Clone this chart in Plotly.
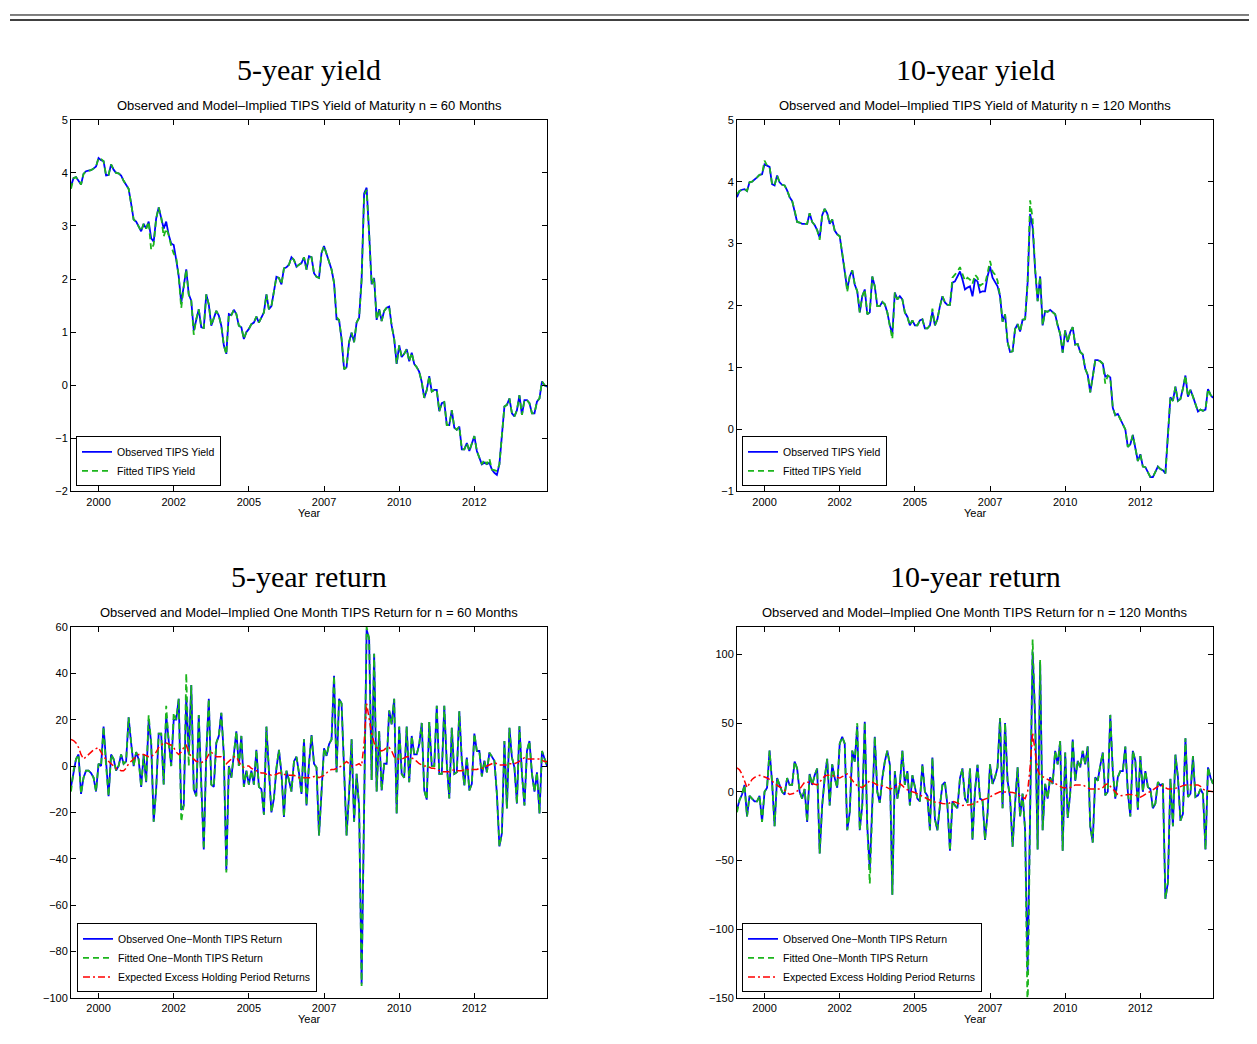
import plotly.graph_objects as go

# ---------------- DATA (monthly, Feb 1999 .. Dec 2014) ----------------
start_year = 1999
start_month = 2
n_obs = 191
months = [start_year + (start_month - 1 + k) / 12 for k in range(n_obs)]

tick_vals = [2000, 2002.5, 2005, 2007.5, 2010, 2012.5]
tick_text = ["2000", "2002", "2005", "2007", "2010", "2012"]

yield5_obs = [
    3.75, 3.90, 3.92, 3.85, 3.78, 3.98, 4.03, 4.04, 4.05, 4.08,
    4.12, 4.28, 4.24, 4.22, 3.95, 3.96, 4.16, 4.06, 4.00, 3.99,
    3.95, 3.85, 3.78, 3.70, 3.42, 3.12, 3.08, 2.98, 2.90, 3.04,
    2.95, 3.08, 2.77, 2.70, 3.14, 3.35, 3.17, 2.95, 3.08, 2.83,
    2.67, 2.64, 2.36, 2.05, 1.55, 1.85, 2.18, 1.71, 1.59, 1.03,
    1.25, 1.43, 1.09, 1.08, 1.71, 1.52, 1.12, 1.27, 1.40, 1.31,
    1.12, 0.75, 0.59, 1.34, 1.32, 1.42, 1.34, 1.12, 1.09, 0.87,
    1.00, 1.06, 1.15, 1.18, 1.29, 1.18, 1.27, 1.37, 1.71, 1.43,
    1.49, 1.80, 2.04, 2.02, 1.90, 2.20, 2.22, 2.27, 2.41, 2.36,
    2.23, 2.27, 2.30, 2.41, 2.18, 2.43, 2.41, 2.11, 2.04, 2.02,
    2.49, 2.62, 2.46, 2.33, 2.18, 1.93, 1.24, 1.23, 0.87, 0.30,
    0.34, 0.81, 0.99, 0.81, 1.18, 1.27, 1.99, 3.61, 3.72, 2.86,
    1.90, 2.02, 1.23, 1.43, 1.21, 1.40, 1.46, 1.48, 1.12, 0.87,
    0.40, 0.75, 0.53, 0.59, 0.68, 0.45, 0.61, 0.40, 0.34, 0.25,
    0.06, -0.24, -0.09, 0.17, -0.12, -0.09, -0.09, -0.49, -0.34, -0.32,
    -0.75, -0.75, -0.47, -0.80, -0.84, -0.78, -1.21, -1.21, -1.09, -1.24,
    -1.09, -0.96, -1.24, -1.37, -1.49, -1.46, -1.49, -1.46, -1.59, -1.65,
    -1.69, -1.49, -0.87, -0.40, -0.37, -0.25, -0.53, -0.59, -0.47, -0.19,
    -0.56, -0.28, -0.28, -0.34, -0.53, -0.53, -0.31, -0.25, 0.07, 0.00,
    -0.03,
]

yield5_fit = [
    3.70, 3.90, 3.92, 3.85, 3.78, 3.98, 4.03, 4.04, 4.05, 4.08,
    4.12, 4.28, 4.26, 4.22, 3.95, 3.96, 4.16, 4.06, 4.00, 3.99,
    3.95, 3.85, 3.78, 3.70, 3.42, 3.12, 3.08, 2.98, 2.90, 3.04,
    2.95, 3.08, 2.55, 2.65, 3.14, 3.35, 3.17, 2.80, 2.95, 2.83,
    2.62, 2.48, 2.40, 2.05, 1.45, 1.85, 2.18, 1.71, 1.59, 0.95,
    1.25, 1.43, 1.09, 1.08, 1.71, 1.52, 1.12, 1.27, 1.40, 1.31,
    1.12, 0.75, 0.58, 1.34, 1.32, 1.42, 1.34, 1.12, 1.09, 0.87,
    1.00, 1.06, 1.15, 1.18, 1.29, 1.18, 1.27, 1.37, 1.71, 1.43,
    1.49, 1.80, 2.04, 2.02, 1.90, 2.20, 2.22, 2.27, 2.41, 2.36,
    2.23, 2.27, 2.30, 2.41, 2.18, 2.43, 2.41, 2.11, 2.04, 2.02,
    2.49, 2.62, 2.46, 2.33, 2.18, 1.93, 1.28, 1.23, 0.87, 0.30,
    0.34, 0.81, 0.99, 0.81, 1.18, 1.27, 1.99, 3.58, 3.68, 2.86,
    1.90, 2.02, 1.23, 1.43, 1.21, 1.40, 1.46, 1.48, 1.12, 0.87,
    0.40, 0.75, 0.53, 0.59, 0.68, 0.45, 0.61, 0.40, 0.34, 0.25,
    0.06, -0.24, -0.09, 0.17, -0.12, -0.09, -0.09, -0.49, -0.34, -0.32,
    -0.75, -0.75, -0.47, -0.80, -0.84, -0.78, -1.21, -1.21, -1.09, -1.24,
    -1.09, -0.96, -1.24, -1.37, -1.49, -1.40, -1.49, -1.38, -1.59, -1.60,
    -1.62, -1.49, -0.87, -0.40, -0.37, -0.25, -0.53, -0.59, -0.47, -0.19,
    -0.56, -0.28, -0.28, -0.34, -0.53, -0.53, -0.31, -0.25, 0.07, 0.00,
    -0.06,
]

yield10_obs = [
    3.75, 3.85, 3.87, 3.88, 3.85, 3.99, 4.00, 4.03, 4.07, 4.11,
    4.12, 4.28, 4.26, 4.24, 3.96, 3.94, 4.10, 3.99, 3.95, 3.94,
    3.86, 3.75, 3.69, 3.54, 3.35, 3.34, 3.32, 3.32, 3.32, 3.49,
    3.35, 3.30, 3.22, 3.09, 3.46, 3.56, 3.49, 3.32, 3.39, 3.21,
    3.15, 3.12, 2.85, 2.58, 2.26, 2.47, 2.57, 2.34, 2.23, 1.89,
    2.15, 2.26, 1.86, 1.89, 2.47, 2.31, 1.99, 1.99, 2.06, 2.02,
    1.89, 1.68, 1.54, 2.21, 2.10, 2.15, 2.10, 1.89, 1.82, 1.68,
    1.76, 1.68, 1.68, 1.76, 1.78, 1.63, 1.63, 1.68, 1.90, 1.68,
    1.78, 1.99, 2.15, 2.05, 2.01, 2.01, 2.37, 2.39, 2.47, 2.55,
    2.42, 2.26, 2.29, 2.31, 2.15, 2.42, 2.39, 2.21, 2.23, 2.23,
    2.47, 2.63, 2.45, 2.39, 2.31, 2.15, 1.74, 1.86, 1.41, 1.25,
    1.26, 1.62, 1.70, 1.58, 1.77, 1.78, 2.37, 3.48, 3.27, 2.58,
    2.07, 2.47, 1.68, 1.91, 1.90, 1.93, 1.89, 1.86, 1.68, 1.54,
    1.24, 1.60, 1.41, 1.57, 1.65, 1.37, 1.38, 1.25, 1.21, 0.98,
    0.88, 0.60, 0.85, 1.12, 1.12, 1.10, 1.06, 0.85, 0.87, 0.84,
    0.35, 0.23, 0.25, 0.16, 0.08, 0.00, -0.28, -0.24, -0.09, -0.29,
    -0.51, -0.40, -0.60, -0.61, -0.69, -0.77, -0.77, -0.69, -0.60, -0.64,
    -0.66, -0.71, -0.03, 0.52, 0.46, 0.69, 0.46, 0.49, 0.66, 0.87,
    0.53, 0.64, 0.53, 0.41, 0.29, 0.32, 0.30, 0.32, 0.65, 0.56,
    0.51,
]

yield10_fit = [
    3.80, 3.85, 3.87, 3.88, 3.85, 3.99, 4.00, 4.03, 4.07, 4.11,
    4.12, 4.34, 4.26, 4.24, 3.96, 3.94, 4.10, 3.99, 3.95, 3.94,
    3.86, 3.75, 3.69, 3.54, 3.35, 3.34, 3.32, 3.32, 3.32, 3.49,
    3.35, 3.30, 3.22, 3.06, 3.46, 3.56, 3.49, 3.32, 3.39, 3.21,
    3.15, 3.12, 2.85, 2.58, 2.22, 2.47, 2.57, 2.34, 2.23, 1.89,
    2.15, 2.26, 1.86, 1.89, 2.47, 2.31, 1.99, 1.99, 2.06, 2.02,
    1.89, 1.68, 1.46, 2.21, 2.10, 2.15, 2.10, 1.89, 1.82, 1.68,
    1.76, 1.68, 1.68, 1.76, 1.78, 1.63, 1.63, 1.68, 1.95, 1.68,
    1.78, 1.99, 2.15, 2.05, 2.01, 2.01, 2.45, 2.50, 2.55, 2.62,
    2.50, 2.40, 2.45, 2.42, 2.35, 2.50, 2.45, 2.32, 2.35, 2.35,
    2.52, 2.72, 2.55, 2.50, 2.40, 2.15, 1.74, 1.86, 1.41, 1.25,
    1.26, 1.62, 1.70, 1.58, 1.77, 1.78, 2.37, 3.70, 3.40, 2.58,
    2.07, 2.47, 1.68, 1.91, 1.90, 1.93, 1.89, 1.86, 1.68, 1.54,
    1.24, 1.60, 1.41, 1.57, 1.65, 1.37, 1.38, 1.25, 1.21, 0.98,
    0.88, 0.60, 0.85, 1.12, 1.12, 1.10, 1.06, 0.74, 0.87, 0.84,
    0.35, 0.23, 0.25, 0.16, 0.08, 0.00, -0.28, -0.24, -0.09, -0.29,
    -0.51, -0.40, -0.60, -0.61, -0.69, -0.77, -0.77, -0.69, -0.60, -0.64,
    -0.66, -0.71, -0.03, 0.52, 0.46, 0.69, 0.46, 0.49, 0.66, 0.87,
    0.53, 0.64, 0.53, 0.41, 0.29, 0.32, 0.30, 0.32, 0.65, 0.56,
    0.51,
]

ret5_obs = [
    -9, -2, 3, 5, -12, -5, -2, -2, -3, -5,
    -11, 1, 0, 17, 0, -13, 5, 3, -2, 0,
    5, 1, 2, 21, 10, 0, 6, 3, -9, 5,
    -7, 20, 10, -24, -10, 14, 14, -8, 22, 10,
    0, 20, 20, 29, -19, -17, 30, 5, 35, -10,
    -13, 22, -10, -36, 5, 29, -8, -9, 10, 13,
    23, 5, -45, 0, -5, 5, 15, 0, 13, -9,
    -2, -8, -2, -8, 7, -9, -10, -21, 17, -2,
    -20, -14, -1, 7, -3, -22, -2, -6, -11, 2,
    4, -3, -12, 11.5, -17, 1, 13.4, 1, -0.6, -30,
    -9, 7.7, 4.4, 9.4, 11.5, 39, -2.7, 29, 27, -1,
    -30, -12, 11.5, -24, -3.4, -17.6, -94, -18, 59, 55,
    -6, 48.5, -11, 15, -10.5, 1, 1, 24, 18, 29,
    -20.5, 17, -3.4, -5, 17, -7, 13, 5, 5, 9.4,
    18.6, -10.5, -14.5, 19, 0, 0, 26, -3.4, -3.4, 26,
    1, -14, 16.5, -3.4, -2.7, 23.6, 2.3, -8.4, 3.7, -10.5,
    -7.7, 14, 6.5, 6.5, -4.5, 2.3, -2.7, 5.8, 4, 2.3,
    -12, -34.7, -29, 10.8, -18.3, 16.5, 3.7, -0.6, -16.2, 17.2,
    -3.4, -17, 6.5, 10.8, -3.4, -11, -2.7, -20.5, 6.5, 3.7,
    0,
]

ret5_fit = [
    -11, -2, 3, 5, -12, -5, -2, -2, -3, -5,
    -11, 1, 0, 17, 0, -13, 5, 3, -2, 0,
    5, 1, 2, 21, 10, 0, 6, 3, -9, 5,
    -7, 22, 10, -24, -10, 14, 14, -8, 26, 10,
    0, 23, 20, 29, -24, -17, 40, 0, 35, -10,
    -13, 22, -10, -36, 5, 29, -8, -9, 10, 13,
    23, 5, -46, 0, -5, 5, 15, 0, 13, -9,
    -2, -8, -2, -8, 7, -9, -10, -21, 17, -2,
    -20, -14, -1, 7, -3, -22, -2, -6, -11, 2,
    4, -3, -12, 11.5, -17, 1, 13.4, 1, -0.6, -30,
    -9, 7.7, 4.4, 9.4, 11.5, 39, -2.7, 29, 27, -1,
    -30, -12, 11.5, -24, -3.4, -17.6, -95, -18, 60, 55,
    -6, 48.5, -11, 15, -10.5, 1, 1, 24, 18, 29,
    -20.5, 17, -3.4, -5, 17, -7, 13, 5, 5, 9.4,
    18.6, -10.5, -14.5, 19, 0, 0, 26, -3.4, -3.4, 26,
    1, -14, 16.5, -3.4, -2.7, 23.6, 2.3, -8.4, 3.7, -10.5,
    -7.7, 14, 6.5, 6.5, -4.5, 2.3, -2.7, 5.8, 4, 2.3,
    -12, -34.7, -29, 10.8, -18.3, 16.5, 3.7, -0.6, -16.2, 17.2,
    -3.4, -17, 6.5, 10.8, -3.4, -11, -2.7, -20.5, 6.5, 3.7,
    0,
]

ret5_exp = [
    11.5, 11, 10, 8, 5, 3, 4, 5, 6, 7,
    7.5, 8, 6, 4, 3, 2, 1, 0, -1, -1.5,
    -2, -2, -1, 1, 2, 3, 4, 5, 5, 5,
    4.5, 4, 4, 5, 6, 8, 9, 10, 10, 9.5,
    9, 8, 6, 5, 6, 8, 9, 6, 4, 3,
    2, 2, 1.5, 2, 3, 5, 6, 5, 4, 4,
    4, 3, 1, 2, 3, 4, 4, 2, 0, -0.5,
    0, 0, -1, -1.5, -2, -2.5, -3, -3, -3.5, -3.5,
    -4, -4, -3.5, -3, -3, -3.5, -4, -4, -4, -4,
    -4.5, -5, -5, -5, -5, -5, -5, -4.5, -4.5, -5,
    -4.5, -4, -3, -2, -1.5, -1.5, -1, -0.5, 0, 1,
    2, 1, 0, 0, 0.5, 1, 0, 10, 27, 20,
    14, 10, 8, 7, 6.5, 7, 8, 8, 6.5, 4,
    3, 3, 3, 3.5, 4, 4, 3.5, 3, 2, 1,
    0.5, 0, 0, -0.5, -1, -1, -1.5, -2, -2.5, -2.5,
    -2.5, -2.5, -2, -1.5, -2, -2, -2, -1.5, -1.5, -1.5,
    -1.5, -1.5, -1.5, -1, -1, -0.5, 0, 0.5, 1, 1.5,
    1, 0.5, 0.5, 0.5, 0.5, 1, 1, 1, 1.5, 2,
    3, 3.5, 3, 3, 3, 3, 3, 3, 2.5, 2,
    2,
]

ret10_obs = [
    -13, -6, -2, 5, -18, -3, -5, -7, -7, -3,
    -22, 0, 3, 30, 7, -25, 10, 5, 0, -2,
    10, 5, 5, 22, 17, 0, -5, 2, -22, 13,
    5, 12, 17, -45, -10, 10, 24, -10, 20, 10,
    3, 35, 40, 35, -28, -15, 30, 22, 48, -28,
    -10, 51, -25, -57, -5, 40, 0, -8, 10, 22,
    30, 20, -75, 15, -5, 5, 30, 5, 15, -10,
    12, 2, -5, -7, 20, 0, -3, -28, 25, -20,
    -28, -10, 5, 7, -10, -43, -7, -10, -12, 10,
    17, -5, -8, 17, -35, 1, 19.7, -5, -6, -35,
    -16, 20, 5.8, 10.6, 17.8, 53.8, -12, 50, 8, -4,
    -40, -8.6, 17.8, -18, -1.4, -28, -131, -15, 102, 54,
    -42, 94.6, -28, 5.8, -5, 10.6, 5.8, 29.8, 20, 37,
    -43, 28.6, -19, -1.4, 38, 8, 22.6, 17.8, 29.8, 20,
    33, -25, -37, 10.6, 8, 19, 28.6, -2.6, 0, 56,
    15, -5, 10.6, 15, 15, 33, 0, -18, 29.8, 22.6,
    -13, 26, 0, 15, 3.4, 2, -12, -8.6, 7, 4.6,
    5.8, -78, -66, 9.4, -25, 27, 10.6, -21, -16, 39,
    -3.8, -1.4, 26, -3.8, -2.6, 2, -1.4, -42, 17.8, 10.6,
    5.8,
]

ret10_fit = [
    -15, -6, -2, 5, -18, -3, -5, -7, -7, -3,
    -22, 0, 3, 30, 7, -25, 10, 5, 0, -2,
    10, 5, 5, 22, 17, 0, -5, 2, -22, 13,
    5, 12, 17, -45, -10, 10, 24, -10, 20, 10,
    3, 35, 40, 35, -28, -15, 30, 22, 50, -28,
    -10, 51, -25, -67, -5, 40, 0, -8, 10, 22,
    30, 20, -75, 15, -5, 5, 30, 5, 15, -10,
    12, 2, -5, -7, 20, 0, -3, -28, 25, -20,
    -28, -10, 5, 7, -10, -43, -7, -10, -12, 10,
    17, -5, -8, 17, -35, 1, 19.7, -5, -6, -35,
    -16, 20, 5.8, 10.6, 17.8, 53.8, -12, 50, 8, -4,
    -40, -8.6, 17.8, -18, -1.4, -28, -165, -15, 111, 54,
    -42, 96, -28, 5.8, -5, 10.6, 5.8, 29.8, 20, 37,
    -43, 28.6, -19, -1.4, 38, 8, 22.6, 17.8, 29.8, 20,
    33, -25, -37, 10.6, 8, 19, 28.6, -2.6, 0, 56,
    15, -5, 10.6, 15, 15, 33, 0, -18, 29.8, 22.6,
    -13, 26, 0, 15, 3.4, 2, -12, -8.6, 7, 4.6,
    5.8, -78, -66, 9.4, -25, 27, 10.6, -21, -16, 39,
    -3.8, -1.4, 26, -3.8, -2.6, 2, -1.4, -42, 17.8, 10.6,
    5.8,
]

ret10_exp = [
    17.5, 16, 13, 8, 3, 6, 9, 10.5, 11.5, 12,
    11.5, 11, 10, 9, 8, 6, 4.5, 3.5, 3, 1,
    -0.5, -2, -1.5, -1, 0.5, 2, 4.5, 7, 7, 7,
    6, 5.5, 5, 7, 9.5, 11.5, 12, 12, 12, 11,
    10.5, 10, 11, 12, 13, 11, 8, 6, 4.5, 3.5,
    3, 4.5, 6.5, 8, 7, 6, 5, 5, 4.5, 4,
    3, 2, 2.5, 3, 4.5, 6, 4.5, 2.5, 1.5, 0.5,
    0, -0.5, -1.5, -2, -3, -4.5, -5.5, -6, -7, -7.5,
    -7.5, -8, -8.5, -9, -9, -8, -7, -7.5, -8, -9,
    -10, -10, -10, -9.5, -9, -8, -7, -6.5, -6, -5.5,
    -5, -4, -2.5, -1.5, -0.5, 0, 0, 0, 0, 0,
    -0.5, -1, -2, -3, -4, -5, 0, 18, 43, 28,
    16, 12, 11, 10, 9, 8, 7, 6, 5, 4,
    3, 3, 3, 3, 4, 5, 5, 5, 5, 4,
    3, 2, 2, 2, 2, 2, 3, 5, 6, 4,
    2, 0, -2, -3, -2.5, -2, -2, -2, -2, -2.5,
    -3, -4, -3, -1.5, -0.5, 0, 1.5, 3, 4, 5,
    4, 3, 2, 2, 2, 2.5, 3, 4, 4.5, 5,
    5, 5, 5, 5, 5, 4, 2, 1, 0.5, 0,
    0,
]

for _arr in (yield5_obs, yield5_fit, yield10_obs, yield10_fit, ret5_obs, ret5_fit,
             ret5_exp, ret10_obs, ret10_fit, ret10_exp):
    assert len(_arr) == n_obs, len(_arr)

# ---------------- LAYOUT GEOMETRY ----------------
# The page body keeps the browser's default 8px margin, so the figure is
# made 16px smaller than the window and every page position is shifted by 8px.
PAGE_MARGIN = 8
W, H = 1257 - 2 * PAGE_MARGIN, 1044 - 2 * PAGE_MARGIN
SANS = "Liberation Sans, Arial, Helvetica, sans-serif"
SERIF = "Liberation Serif, Times New Roman, serif"

BLUE = "#0000FF"
GREEN = "#1CB51C"
RED = "#FF0000"


def px_x(p):
    return (p - PAGE_MARGIN) / W


def px_y(p):
    return 1 - (p - PAGE_MARGIN) / H


panels = {
    "tl": dict(x=(71, 547), y=(115, 491)),
    "tr": dict(x=(737, 1213), y=(115, 491)),
    "bl": dict(x=(71, 547), y=(628.3, 1003.3)),
    "br": dict(x=(737, 1213), y=(628.3, 1003.3)),
}

fig = go.Figure()


def add(x, y, name, color, dash, width, xa, ya, legend):
    fig.add_trace(go.Scatter(
        x=x, y=y, mode="lines", name=name,
        line=dict(color=color, width=width, dash=dash),
        xaxis=xa, yaxis=ya, legend=legend, hoverinfo="skip",
    ))


GD = "6px,4px"
RD = "7px,3px,2px,3px"

add(months, yield5_obs, "Observed TIPS Yield", BLUE, "solid", 1.8, "x", "y", "legend")
add(months, yield5_fit, "Fitted TIPS Yield", GREEN, GD, 1.8, "x", "y", "legend")

add(months, yield10_obs, "Observed TIPS Yield", BLUE, "solid", 1.8, "x2", "y2", "legend2")
add(months, yield10_fit, "Fitted TIPS Yield", GREEN, GD, 1.8, "x2", "y2", "legend2")

add(months, ret5_obs, "Observed One\u2212Month TIPS Return", BLUE, "solid", 1.8, "x3", "y3", "legend3")
add(months, ret5_fit, "Fitted One\u2212Month TIPS Return", GREEN, GD, 1.8, "x3", "y3", "legend3")
add(months, ret5_exp, "Expected Excess Holding Period Returns", RED, RD, 1.5, "x3", "y3", "legend3")

add(months, ret10_obs, "Observed One\u2212Month TIPS Return", BLUE, "solid", 1.8, "x4", "y4", "legend4")
add(months, ret10_fit, "Fitted One\u2212Month TIPS Return", GREEN, GD, 1.8, "x4", "y4", "legend4")
add(months, ret10_exp, "Expected Excess Holding Period Returns", RED, RD, 1.5, "x4", "y4", "legend4")

axis_common = dict(
    showgrid=False, zeroline=False, showline=True, linecolor="black", linewidth=1,
    mirror="allticks", ticks="inside", ticklen=5, tickwidth=1, tickcolor="black",
    tickfont=dict(family=SANS, size=11, color="black"),
)

xrange = [months[0], months[-1]]
yranges = {"tl": [-2, 5], "tr": [-1, 5], "bl": [-100, 60], "br": [-150, 120]}
yticks = {
    "tl": [-2, -1, 0, 1, 2, 3, 4, 5],
    "tr": [-1, 0, 1, 2, 3, 4, 5],
    "bl": [-100, -80, -60, -40, -20, 0, 20, 40, 60],
    "br": [-150, -100, -50, 0, 50, 100],
}
names = [("tl", "xaxis", "yaxis", "x", "y"), ("tr", "xaxis2", "yaxis2", "x2", "y2"),
         ("bl", "xaxis3", "yaxis3", "x3", "y3"), ("br", "xaxis4", "yaxis4", "x4", "y4")]

layout = dict(
    width=W, height=H, margin=dict(l=0, r=0, t=0, b=0),
    paper_bgcolor="white", plot_bgcolor="white",
    font=dict(family=SANS, color="black"),
    showlegend=True,
)

for key, xk, yk, xr, yr in names:
    p = panels[key]
    layout[xk] = dict(axis_common, domain=[px_x(p["x"][0]), px_x(p["x"][1])],
                      range=xrange, tickvals=tick_vals, ticktext=tick_text,
                      anchor=yr)
    layout[yk] = dict(axis_common, domain=[px_y(p["y"][1]), px_y(p["y"][0])],
                      range=yranges[key], tickvals=yticks[key], anchor=xr)

leg_common = dict(
    xanchor="left", yanchor="bottom", bgcolor="white", bordercolor="black",
    borderwidth=1, font=dict(family=SANS, size=10.5, color="black"),
    tracegroupgap=0, itemwidth=30, traceorder="normal",
)
layout["legend"] = dict(leg_common, x=px_x(76), y=px_y(486))
layout["legend2"] = dict(leg_common, x=px_x(742), y=px_y(486))
layout["legend3"] = dict(leg_common, x=px_x(77), y=px_y(998))
layout["legend4"] = dict(leg_common, x=px_x(742), y=px_y(998))

annotations = []


def txt(text, xp, yp, size, family):
    annotations.append(dict(
        text=text, x=px_x(xp), y=px_y(yp), xref="paper", yref="paper",
        showarrow=False, xanchor="center", yanchor="middle",
        font=dict(family=family, size=size, color="black"),
    ))


txt("5-year yield", 309, 64, 30, SERIF)
txt("10-year yield", 975, 64, 30, SERIF)
txt("5-year return", 309, 577, 30, SERIF)
txt("10-year return", 975, 577, 30, SERIF)
txt("Observed and Model\u2013Implied TIPS Yield of Maturity n = 60 Months", 309, 101, 13, SANS)
txt("Observed and Model\u2013Implied TIPS Yield of Maturity n = 120 Months", 975, 101, 13, SANS)
txt("Observed and Model\u2013Implied One Month TIPS Return for n = 60 Months", 309, 614, 13, SANS)
txt("Observed and Model\u2013Implied One Month TIPS Return for n = 120 Months", 975, 614, 13, SANS)
txt("Year", 309, 513, 11, SANS)
txt("Year", 975, 513, 11, SANS)
txt("Year", 309, 1025, 11, SANS)
txt("Year", 975, 1025, 11, SANS)
layout["annotations"] = annotations

layout["shapes"] = [
    dict(type="line", xref="paper", yref="paper", x0=px_x(10), x1=1,
         y0=px_y(9), y1=px_y(9), line=dict(color="black", width=1)),
    dict(type="line", xref="paper", yref="paper", x0=px_x(10), x1=1,
         y0=px_y(14), y1=px_y(14), line=dict(color="black", width=1.5)),
]

fig.update_layout(**layout)
fig.write_html("out.html")
